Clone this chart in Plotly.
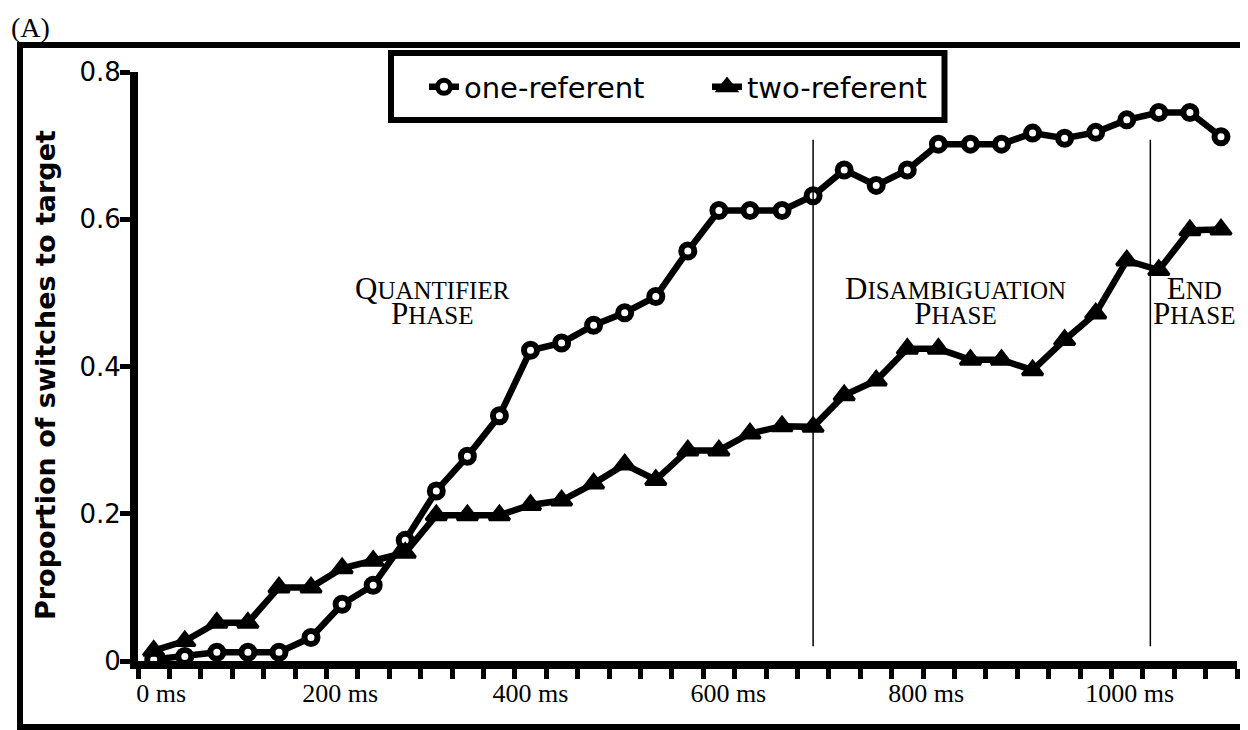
import plotly.graph_objects as go

# time bins (ms), one every 33 ms
times_ms = [0, 33, 67, 100, 133, 167, 200, 233, 267, 300, 333, 367, 400, 433, 467,
            500, 533, 567, 600, 633, 667, 700, 733, 767, 800, 833, 867, 900, 933,
            967, 1000, 1033, 1067, 1100, 1133]

one_referent = [0.002, 0.006, 0.012, 0.012, 0.012, 0.032, 0.077, 0.103, 0.164, 0.231,
                0.278, 0.333, 0.422, 0.432, 0.456, 0.473, 0.495, 0.557, 0.612, 0.612,
                0.612, 0.632, 0.667, 0.646, 0.667, 0.702, 0.702, 0.702, 0.717, 0.710,
                0.718, 0.735, 0.745, 0.745, 0.712]

two_referent = [0.014, 0.027, 0.052, 0.052, 0.100, 0.100, 0.126, 0.136, 0.147, 0.198,
                0.198, 0.198, 0.212, 0.218, 0.241, 0.267, 0.246, 0.286, 0.286, 0.309,
                0.319, 0.318, 0.361, 0.381, 0.424, 0.424, 0.409, 0.409, 0.395, 0.436,
                0.472, 0.544, 0.531, 0.585, 0.586]

x_labels = ["0 ms", "200 ms", "400 ms", "600 ms", "800 ms", "1000 ms"]
x_label_at = [8, 198, 400, 610, 820, 1036]
y_ticks = [0, 0.2, 0.4, 0.6, 0.8]
phase_bounds = [700, 1058]
phase_names = ["Quantifier", "Disambiguation", "End"]

SERIF = "Liberation Serif"
SANS = "DejaVu Sans"

# page is 1248x730, the html body adds an 8px margin
OFF = 8
PAGE_W, PAGE_H = 1248, 730
# plot area in page pixels
L, R, T, B = 138, 1237, 72, 661
W, H = R - L, B - T


def px_x(p):
    return (p - L) / W


def px_y(p):
    return (B - p) / H


fig = go.Figure()
fig.add_trace(go.Scatter(
    x=times_ms, y=one_referent, name="one-referent", mode="lines+markers",
    line=dict(color="black", width=6.5),
    marker=dict(symbol="circle", size=13, color="white", line=dict(color="black", width=6)),
    cliponaxis=False))
fig.add_trace(go.Scatter(
    x=times_ms, y=two_referent, name="two-referent", mode="lines+markers",
    line=dict(color="black", width=6.5),
    marker=dict(symbol="triangle-up", size=18, color="black", line=dict(color="black", width=3)),
    cliponaxis=False))

bounds = [-50 / 3 + i * 100 / 3 for i in range(len(times_ms) + 1)]

fig.update_xaxes(
    range=[bounds[0], bounds[-1]], showgrid=False, zeroline=False,
    showline=True, linecolor="black", linewidth=8,
    tickmode="array", tickvals=x_label_at, ticktext=x_labels, ticks="",
    tickfont=dict(family=SERIF, size=26, color="black"), ticklabelstandoff=2,
    minor=dict(tickmode="array", tickvals=bounds, ticks="outside", ticklen=10,
               tickwidth=5, tickcolor="black"))
fig.update_yaxes(
    range=[0, 0.8], showgrid=False, zeroline=False,
    showline=True, linecolor="black", linewidth=8,
    tickmode="array", tickvals=y_ticks, ticktext=["0", "0.2", "0.4", "0.6", "0.8"],
    ticks="outside", ticklen=10, tickwidth=5, tickcolor="black", ticklabelstandoff=-6,
    tickfont=dict(family=SANS, size=26, color="black"))

shapes = [
    # outer frame
    dict(type="rect", xref="paper", yref="paper", x0=px_x(20), x1=px_x(1244.5),
         y0=px_y(727), y1=px_y(45), line=dict(color="black", width=6), layer="below"),
    # legend box
    dict(type="rect", xref="paper", yref="paper", x0=px_x(391), x1=px_x(944.5),
         y0=px_y(120), y1=px_y(53), line=dict(color="black", width=6),
         fillcolor="white", layer="below"),
]
for xb in phase_bounds:
    shapes.append(dict(type="line", xref="x", yref="y", x0=xb, x1=xb, y0=0.02, y1=0.708,
                       line=dict(color="black", width=1.5)))

big, small = 31, 25


def smallcaps(word):
    word = word.upper()
    return ("<span style='font-size:%dpx'>%s</span>"
            "<span style='font-size:%dpx'>%s</span>" % (big, word[0], small, word[1:]))


phase_x = [432, 955, 1194]
annotations = []
for name, xc in zip(phase_names, phase_x):
    annotations.append(dict(text=smallcaps(name) + "<br>" + smallcaps("Phase"),
                            x=px_x(xc), y=px_y(301), xref="paper", yref="paper",
                            showarrow=False, xanchor="center", yanchor="middle",
                            align="center",
                            font=dict(family=SERIF, size=19, color="black")))

annotations.append(dict(text="(A)", x=px_x(OFF + 1), y=px_y(27), xref="paper", yref="paper",
                        showarrow=False, xanchor="left", yanchor="middle",
                        font=dict(family=SERIF, size=28, color="black")))
annotations.append(dict(text="<b>Proportion of switches to target</b>", x=px_x(45),
                        y=px_y(375), xref="paper", yref="paper", showarrow=False,
                        textangle=-90, xanchor="center", yanchor="middle",
                        font=dict(family=SANS, size=27, color="black")))

fig.update_layout(
    width=PAGE_W - OFF, height=PAGE_H - OFF,
    margin=dict(l=L - OFF, r=PAGE_W - R, t=T - OFF, b=PAGE_H - B),
    plot_bgcolor="white", paper_bgcolor="white",
    shapes=shapes, annotations=annotations,
    legend=dict(orientation="h", x=px_x(424), y=px_y(87), xanchor="left", yanchor="middle",
                bgcolor="rgba(0,0,0,0)", borderwidth=0, entrywidth=238,
                font=dict(family=SANS, size=29, color="black")),
)

fig.write_html("out.html")
